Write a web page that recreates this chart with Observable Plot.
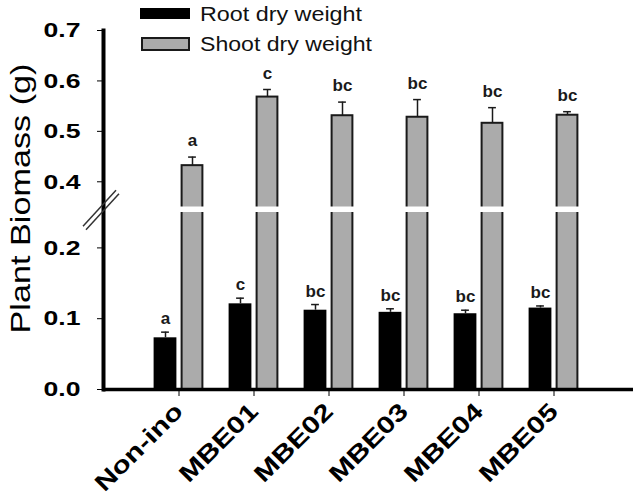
<!DOCTYPE html>
<html><head><meta charset="utf-8">
<script src="https://cdn.jsdelivr.net/npm/d3@7"></script>
<script src="https://cdn.jsdelivr.net/npm/@observablehq/plot@0.6"></script>
<style>
body{margin:0;background:#fff;}
#wrap{position:relative;width:638px;height:497px;}
#legend{position:absolute;left:0;top:0;}
</style></head><body><div id="wrap"></div>
<script>
const categories = ["Non-ino","MBE01","MBE02","MBE03","MBE04","MBE05"];
const rootMean = [0.073,0.121,0.112,0.109,0.107,0.115];
const rootErr = [0.008,0.008,0.008,0.005,0.005,0.003];
const shootMean = [0.432,0.568,0.531,0.528,0.516,0.532];
const shootErr = [0.017,0.015,0.027,0.035,0.031,0.007];
const rootLetters = ["a","c","bc","bc","bc","bc"];
const shootLetters = ["a","c","bc","bc","bc","bc"];
const yTicks = [0,0.1,0.2,0.4,0.5,0.6,0.7];
const seriesNames = ["Root dry weight","Shoot dry weight"];
const yTitle = ["Plant Biomass (g)"];

const root = categories.map((c,i)=>({cat:c, mean:rootMean[i], top:rootMean[i]+rootErr[i], letter:rootLetters[i]}));
const shoot = categories.map((c,i)=>({cat:c, mean:shootMean[i], top:shootMean[i]+shootErr[i], letter:shootLetters[i]}));

// broken axis: lower segment 0..0.25, gap, upper segment 0.35..0.7
const breakLo = 0.25, breakHi = 0.35;
const lowK = 708, gapK = 55, highK = 504.3;
const brk = v => v <= breakLo ? v*lowK
  : v < breakHi ? breakLo*lowK + (v-breakLo)*gapK
  : breakLo*lowK + (breakHi-breakLo)*gapK + (v-breakHi)*highK;
const fmt = d3.format(".1f");
const tickLabel = t => { const v = yTicks.find(v => Math.abs(brk(v) - t) < 1e-6); return v === undefined ? "" : fmt(v); };

const step = 75.2, c0 = 178, half = step/2;
const font = "'Liberation Sans', Arial, sans-serif";
const grayFill = "#ababab", dark = "#1a1a1a";

const chart = Plot.plot({
  width: 638, height: 497,
  marginLeft: 103, marginRight: 5, marginTop: 30, marginBottom: 108,
  style: {fontFamily: font, background: "white", color: "black"},
  x: {domain: categories, range: [c0 - half, c0 + step*5 + half], padding: 0, label: null},
  y: {transform: brk, domain: [0, brk(0.7)], label: null},
  marks: [
    Plot.barY(root, {x:"cat", y:"mean", fill:"black", insetLeft: half-25, insetRight: half+2}),
    Plot.barY(shoot, {x:"cat", y:"mean", fill:grayFill, stroke:dark, strokeWidth:2, insetLeft: half+3, insetRight: half-24}),
    Plot.ruleX(root, {x:"cat", y1:"mean", y2:"top", dx:-13.5, stroke:dark, strokeWidth:1.5}),
    Plot.ruleX(shoot, {x:"cat", y1:"mean", y2:"top", dx:13.5, stroke:dark, strokeWidth:1.5}),
    Plot.tickY(root, {x:"cat", y:"top", insetLeft: half-13.5-4, insetRight: half+13.5-4, stroke:dark, strokeWidth:1.5}),
    Plot.tickY(shoot, {x:"cat", y:"top", insetLeft: half+13.5-4, insetRight: half-13.5-4, stroke:dark, strokeWidth:1.5}),
    Plot.rectY([0], {y1: breakLo, y2: breakHi, fill: "white"}),
    Plot.text(root, {x:"cat", y:"top", text:"letter", dx:-13.5, dy:-8, lineAnchor:"bottom", fontSize:17, fontWeight:"bold", fill:dark}),
    Plot.text(shoot, {x:"cat", y:"top", text:"letter", dx:13.5, dy:-11, lineAnchor:"bottom", fontSize:17, fontWeight:"bold", fill:dark}),
    Plot.ruleY([0], {stroke:"black", strokeWidth:3.5}),
    Plot.frame({anchor:"left", stroke:"black", strokeWidth:4}),
    Plot.axisY({ticks: yTicks.map(brk), tickFormat: tickLabel, tickSize: 6, tickPadding: 17, fontSize: 21, fontWeight: "bold", label: null}),
    Plot.axisX({tickSize: 7, tickPadding: 11, tickRotate: -45, fontSize: 24, fontWeight: "bold", label: null}),
    Plot.text(yTitle, {frameAnchor:"left", text: d=>d, rotate:-90, dx:-74, dy:123.5, textAnchor:"start", lineAnchor:"bottom", fontSize:28, fill:"black"})
  ]
});

const svg = d3.select(chart);
svg.selectAll('g[aria-label="y-axis tick label"] text').attr("textLength", 37).attr("lengthAdjust","spacingAndGlyphs");
svg.selectAll('g[aria-label="x-axis tick label"] text').each(function(){
  const t = d3.select(this);
  t.attr("textLength", t.text() === "Non-ino" ? 113 : 100).attr("lengthAdjust","spacingAndGlyphs");
});
svg.selectAll('text').filter(function(){return d3.select(this).text() === yTitle[0];})
  .attr("textLength", 270).attr("lengthAdjust","spacingAndGlyphs");

// axis break marks
const ys = chart.scale("y");
const yb = ys.apply(brk((breakLo+breakHi)/2)), x0 = 103;
[[0,0],[3,3.5]].forEach(([ox,oy])=>{
  svg.append("line").attr("x1", x0-20+ox).attr("y1", yb+17+oy).attr("x2", x0+13+ox).attr("y2", yb-19+oy)
    .attr("stroke", "#333").attr("stroke-width", 1.5);
});

document.getElementById("wrap").appendChild(chart);

// legend
const lg = d3.select("#wrap").append("svg").attr("id","legend").attr("width",638).attr("height",60);
const items = [
  {name: seriesNames[0], fill:"black", stroke:"none", y:8, h:11},
  {name: seriesNames[1], fill:grayFill, stroke:dark, y:38, h:12}
];
items.forEach((it,i)=>{
  lg.append("rect").attr("x", i ? 142 : 140).attr("y", it.y).attr("width", i ? 47 : 50).attr("height", it.h)
    .attr("fill", it.fill).attr("stroke", it.stroke).attr("stroke-width", 2);
  lg.append("text").attr("x", 200).attr("y", it.y + it.h/2 + 7).attr("font-family", font).attr("font-size", 20)
    .attr("fill", "#111").attr("textLength", i ? 172 : 162).attr("lengthAdjust","spacingAndGlyphs").text(it.name);
});
</script></body></html>
